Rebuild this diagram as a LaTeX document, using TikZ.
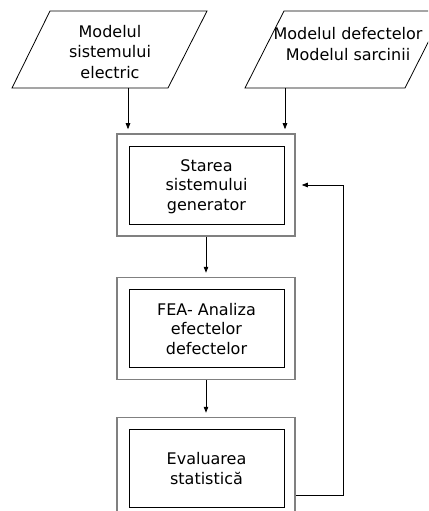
\documentclass[tikz,border=0pt]{standalone}
\usepackage{fontspec}
\setmainfont{DejaVu Sans}
\usetikzlibrary{positioning, calc, arrows.meta}
\definecolor{Ink}{HTML}{000000}
\definecolor{Frame}{HTML}{808080}
\tikzset{
    txtnode/.style={align=center, inner sep=0pt, text=Ink, font=\fontsize{16bp}{20.5bp}\selectfont},
    outerbox/.style={rectangle, draw=Frame, line width=1.5bp, minimum width=178bp, minimum height=102bp},
    innerbox/.style={rectangle, draw=Ink, line width=0.8bp, minimum width=155bp, minimum height=78bp, align=center, text depth=0pt, font=\fontsize{16bp}{19.5bp}\selectfont},
    dataio/.style={draw=Ink, line width=0.8bp},
    arrow/.style={-{Triangle[length=6bp, width=4.5bp]}, line width=0.8bp, color=Ink, shorten >=4bp},
}

\begin{document}
\begin{tikzpicture}[x=1bp, y=1bp]
    \clip (0,0) rectangle (428,-511);

    % Date de intrare
    \draw[dataio] (12,-88) -- (50,-11) -- (207,-11) -- (168,-88) -- cycle;
    \draw[dataio] (245,-88) -- (284,-11) -- (444,-11) -- (405,-88) -- cycle;
    \node[txtnode] (elec) at (110,-52) {Modelul\\sistemului\\electric};
    \node[txtnode] (fault) at (348,-44) {Modelul defectelor\\Modelul sarcinii};
    \coordinate (elecout) at (128,-88);
    \coordinate (faultout) at (285,-88);

    % Blocuri
    \node[outerbox] (stare) at (206,-185) {};
    \node[innerbox] (starein) at (206.5,-185) {Starea\\sistemului\\generator};
    \node[outerbox] (fea) at (206,-328.5) {};
    \node[innerbox] (feain) at (206.5,-328.5) {FEA- Analiza\\efectelor\\defectelor};
    \node[outerbox] (eval) at (206,-468.5) {};
    \node[innerbox] (evalin) at (206.5,-468.5) {Evaluarea\\statistică};

    % Legaturi
    \draw[arrow] (elecout) -- (elecout |- stare.north);
    \draw[arrow] (faultout) -- (faultout |- stare.north);
    \draw[arrow] (stare.south) -- (fea.north);
    \draw[arrow] (fea.south) -- (eval.north);

    % Bucla de revenire
    \coordinate (ret) at (343,-185);
    \draw[arrow, shorten >=6bp] ([yshift=-26.5bp]eval.east) -| (ret) -- (stare.east);
\end{tikzpicture}
\end{document}
